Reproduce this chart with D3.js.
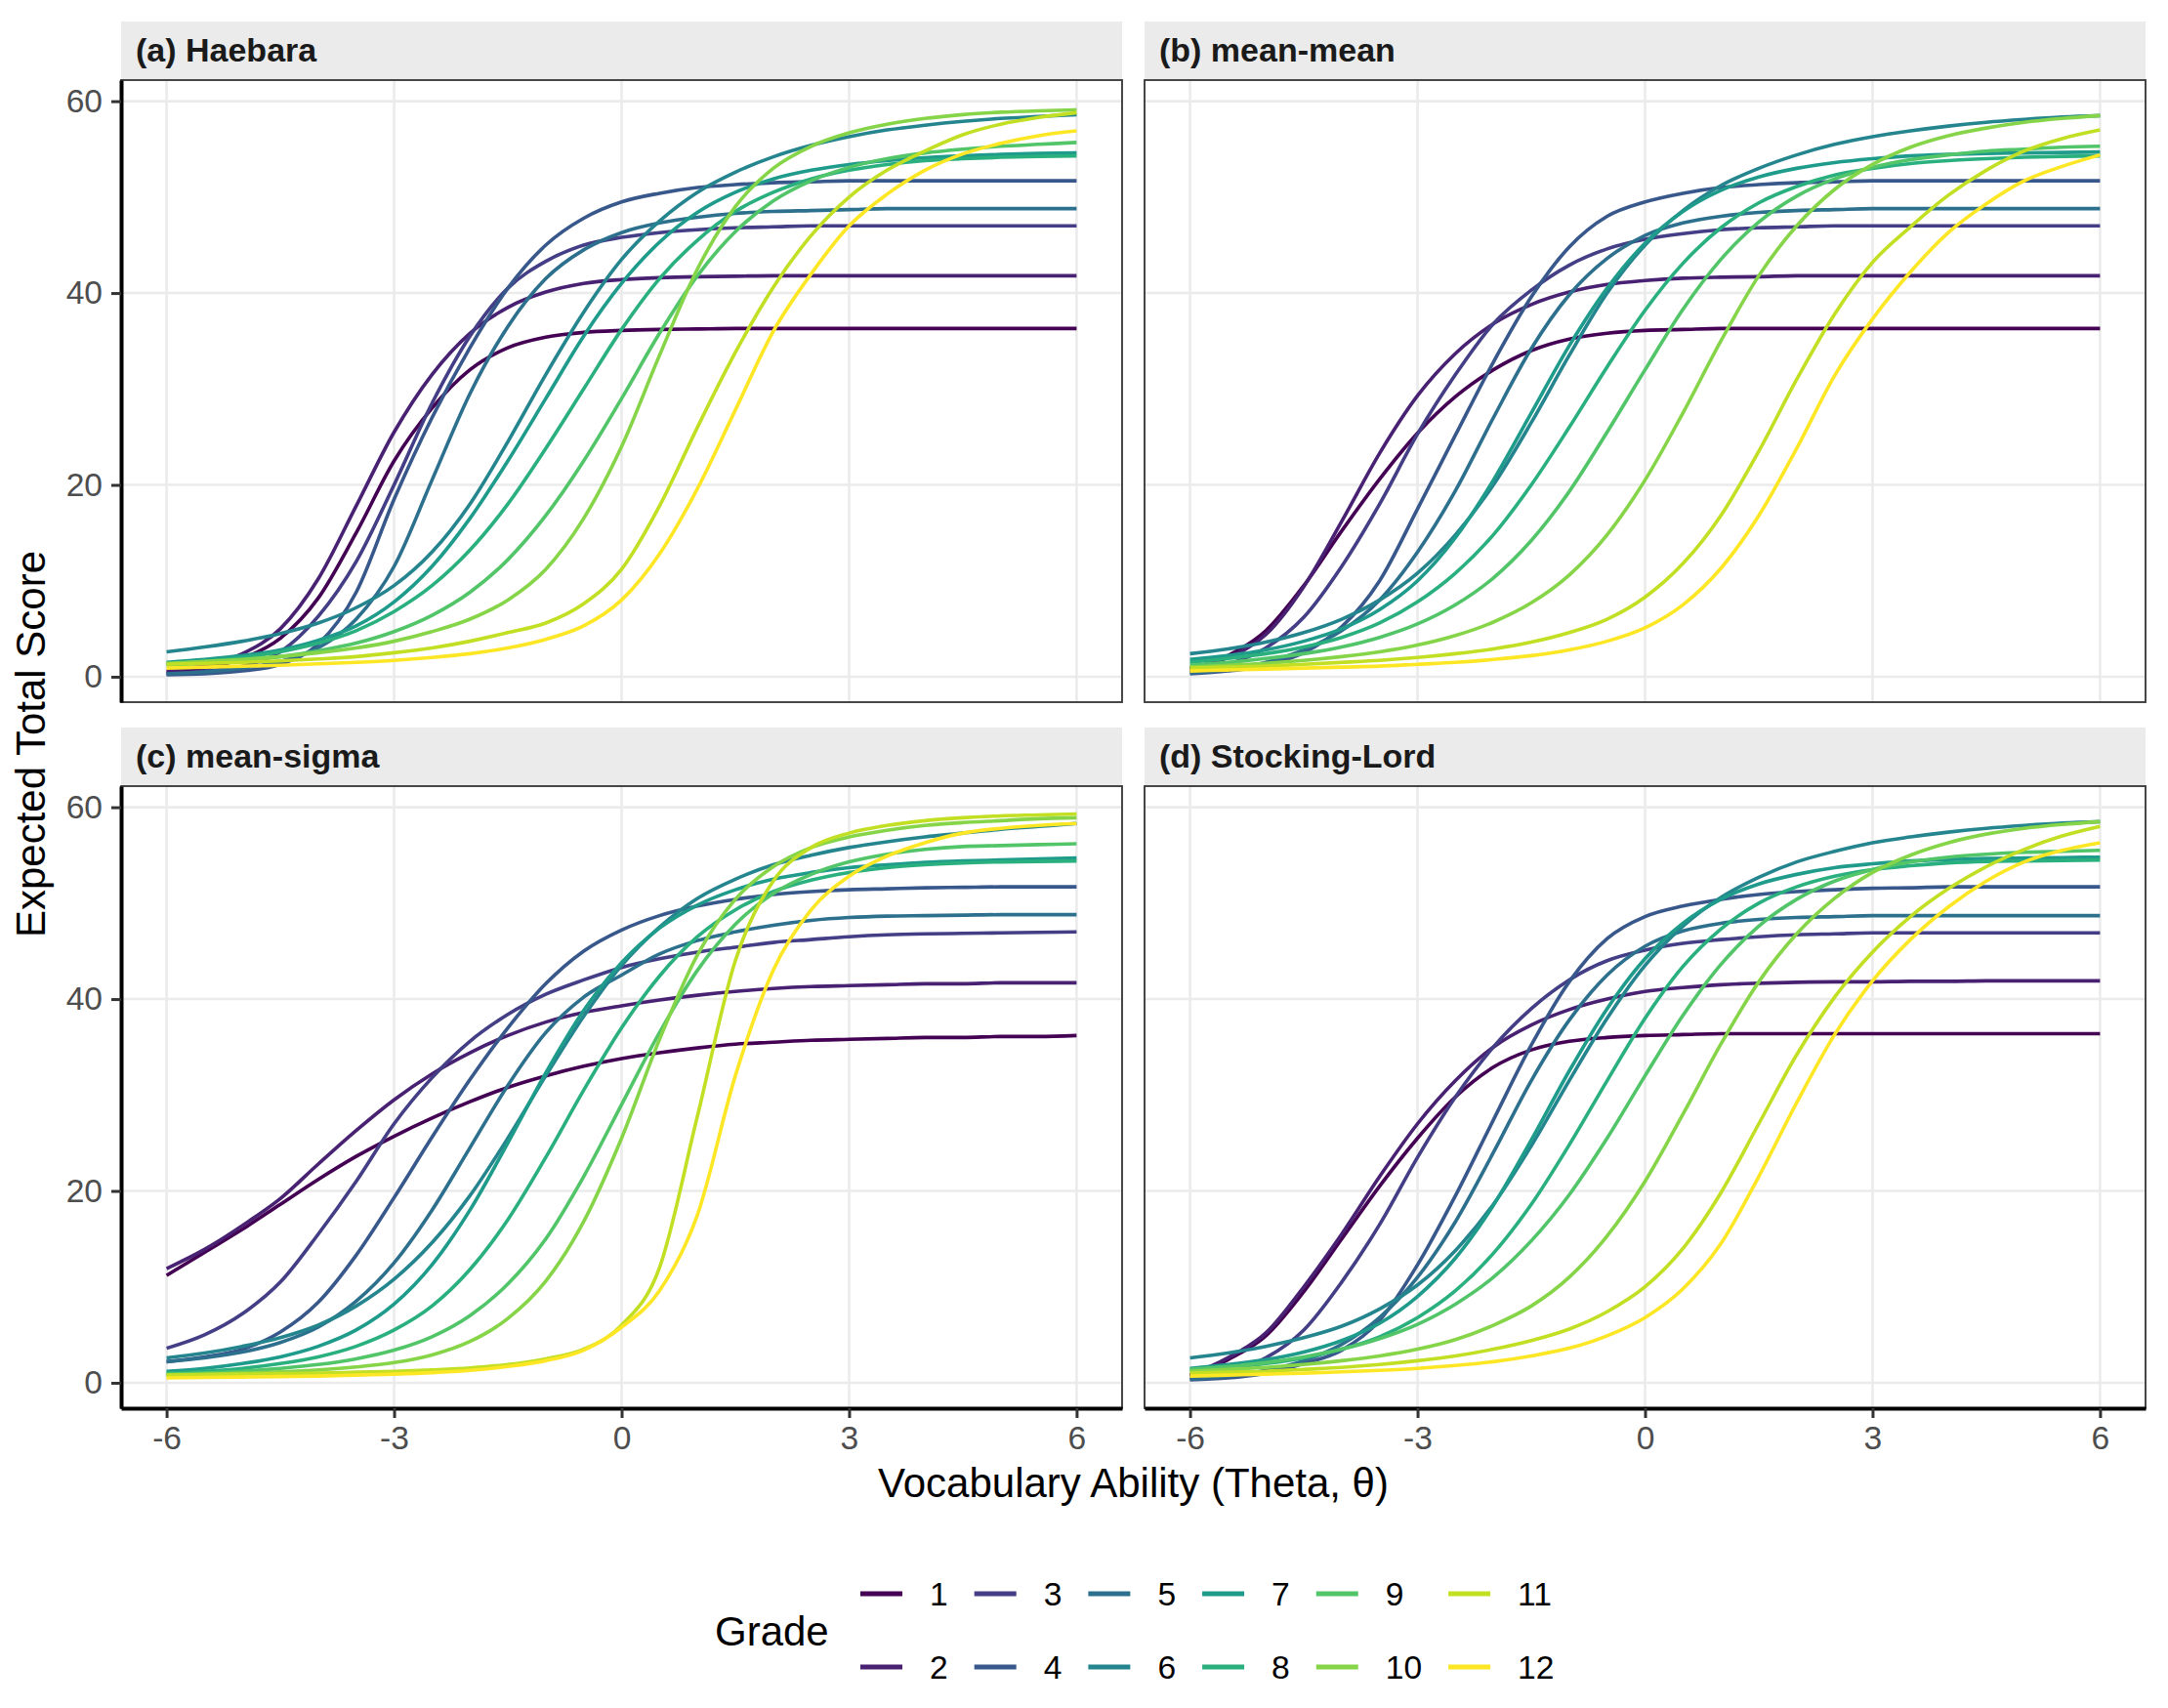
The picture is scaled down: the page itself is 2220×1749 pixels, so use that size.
<!DOCTYPE html>
<html>
<head>
<meta charset="utf-8">
<script src="https://cdn.jsdelivr.net/npm/d3@7"></script>
<style>
  body { margin: 0; background: #fff; }
  svg { display: block; font-family: "Liberation Sans", Arial, Helvetica, sans-serif; }
</style>
</head>
<body>
<div class="mainviz"></div>
<script>
// theta grid the curves were read on (step 0.5)
var theta = [-6,-5.5,-5,-4.5,-4,-3.5,-3,-2.5,-2,-1.5,-1,-0.5,0,0.5,1,1.5,2,2.5,3,3.5,4,4.5,5,5.5,6];
var grades = [1,2,3,4,5,6,7,8,9,10,11,12];
var panelTitles = ["(a) Haebara", "(b) mean-mean", "(c) mean-sigma", "(d) Stocking-Lord"];
var xTicks = [-6,-3,0,3,6];
var yTicks = [0,20,40,60];

// expected total score, one row per grade
var haebara = [
  [0.4,0.9,1.9,4.0,8.2,15.0,22.5,28.0,32.0,34.3,35.4,35.9,36.1,36.2,36.25,36.3,36.3,36.3,36.3,36.3,36.3,36.3,36.3,36.3,36.3],
  [0.6,1.2,2.4,5.0,10.2,17.8,25.5,31.5,35.8,38.5,40.1,41.0,41.4,41.6,41.7,41.75,41.8,41.8,41.8,41.8,41.8,41.8,41.8,41.8,41.8],
  [0.3,0.6,1.1,2.6,6.3,12.0,20.0,28.5,35.5,40.5,43.3,45.0,45.8,46.3,46.6,46.8,46.9,47.0,47.0,47.0,47.0,47.0,47.0,47.0,47.0],
  [0.2,0.3,0.6,1.3,3.4,8.8,18.5,27.0,34.3,40.5,45.0,47.8,49.5,50.4,51.0,51.3,51.5,51.6,51.7,51.7,51.7,51.7,51.7,51.7,51.7],
  [0.3,0.5,0.9,1.6,3.0,6.0,11.5,20.5,29.5,36.5,41.5,44.5,46.3,47.3,47.9,48.3,48.5,48.6,48.7,48.8,48.8,48.8,48.8,48.8,48.8],
  [2.6,3.1,3.7,4.5,5.6,7.2,9.5,13.0,18.0,24.5,31.5,38.0,43.5,47.5,50.5,52.6,54.2,55.4,56.3,57.0,57.5,57.9,58.2,58.4,58.6],
  [1.5,1.8,2.2,2.8,3.8,5.3,7.8,11.5,16.5,22.5,29.0,35.5,41.0,45.3,48.4,50.5,51.9,52.8,53.4,53.8,54.1,54.3,54.45,54.55,54.6],
  [1.3,1.6,2.0,2.6,3.5,4.8,6.8,9.5,13.2,18.0,23.8,30.0,36.2,41.5,45.5,48.5,50.5,51.9,52.8,53.4,53.8,54.0,54.15,54.25,54.3],
  [1.2,1.4,1.7,2.1,2.7,3.5,4.7,6.4,8.8,12.2,16.8,22.5,29.0,35.8,41.8,46.4,49.6,51.7,53.1,54.0,54.6,55.0,55.3,55.5,55.7],
  [1.4,1.6,1.8,2.1,2.5,3.0,3.7,4.7,6.0,8.0,11.2,16.5,24.0,33.5,42.5,49.0,53.0,55.3,56.7,57.6,58.2,58.6,58.85,59.0,59.1],
  [1.3,1.4,1.5,1.65,1.85,2.1,2.5,3.0,3.7,4.6,5.6,7.6,11.2,17.8,26.0,33.8,40.6,46.0,50.0,52.8,54.8,56.5,57.6,58.3,58.8],
  [0.9,1.0,1.1,1.2,1.35,1.5,1.7,2.0,2.4,3.0,3.9,5.3,8.0,12.8,19.6,27.8,36.0,42.0,47.0,50.3,52.8,54.5,55.6,56.4,56.9]
];

var meanMean = [
  [0.8,2.2,4.8,9.5,15.2,20.6,25.4,29.2,32.0,34.0,35.2,35.8,36.1,36.2,36.3,36.3,36.3,36.3,36.3,36.3,36.3,36.3,36.3,36.3,36.3],
  [0.9,2.0,4.4,9.4,16.2,23.3,29.3,33.7,36.8,38.8,40.1,40.9,41.3,41.55,41.65,41.7,41.8,41.8,41.8,41.8,41.8,41.8,41.8,41.8,41.8],
  [0.5,1.3,3.0,6.2,11.5,18.0,25.3,31.5,36.8,40.3,42.9,44.6,45.6,46.2,46.6,46.8,46.9,47.0,47.0,47.0,47.0,47.0,47.0,47.0,47.0],
  [0.3,0.6,1.2,2.5,5.2,10.0,17.5,25.2,32.8,39.6,44.8,48.0,49.5,50.4,51.0,51.3,51.5,51.6,51.7,51.7,51.7,51.7,51.7,51.7,51.7],
  [0.4,0.8,1.5,2.8,4.8,8.0,13.0,19.4,27.0,34.2,39.8,43.6,46.0,47.3,48.0,48.4,48.6,48.7,48.8,48.8,48.8,48.8,48.8,48.8,48.8],
  [2.4,2.9,3.6,4.6,6.0,8.0,10.8,14.8,20.0,26.5,33.5,40.0,45.0,48.6,51.2,53.0,54.4,55.5,56.3,56.9,57.4,57.8,58.1,58.35,58.5],
  [1.8,2.2,2.8,3.7,5.0,7.0,10.0,14.5,20.5,27.5,34.5,40.5,45.2,48.5,50.7,52.1,53.0,53.6,54.0,54.3,54.45,54.55,54.6,54.65,54.7],
  [1.5,1.9,2.4,3.1,4.1,5.6,7.8,10.8,14.8,20.0,26.0,32.3,38.2,43.1,46.8,49.4,51.1,52.3,53.0,53.5,53.8,54.0,54.15,54.25,54.3],
  [1.2,1.5,1.9,2.4,3.1,4.1,5.5,7.5,10.3,14.2,19.3,25.5,32.0,38.3,43.5,47.4,50.1,51.9,53.1,53.9,54.4,54.8,55.0,55.2,55.3],
  [1.0,1.2,1.4,1.7,2.1,2.6,3.3,4.3,5.7,7.7,10.6,14.8,20.5,27.5,35.0,41.8,47.0,50.8,53.4,55.2,56.4,57.2,57.8,58.2,58.5],
  [0.9,1.0,1.1,1.3,1.5,1.7,2.0,2.4,2.9,3.6,4.6,6.0,8.3,11.8,16.8,23.5,31.0,37.8,43.2,46.9,50.2,52.8,54.8,56.1,57.0],
  [0.6,0.7,0.8,0.9,1.0,1.1,1.3,1.5,1.8,2.2,2.8,3.7,5.1,7.5,11.3,16.8,23.8,31.4,37.3,42.2,46.3,49.3,51.7,53.2,54.4]
];

var meanSigma = [
  [11.2,13.6,16.0,18.6,21.2,23.6,25.7,27.6,29.3,30.8,32.0,33.0,33.8,34.4,34.9,35.3,35.5,35.7,35.8,35.9,36.0,36.0,36.1,36.1,36.2],
  [11.9,13.9,16.4,19.2,22.8,26.3,29.5,32.2,34.4,36.2,37.6,38.6,39.3,39.9,40.4,40.8,41.1,41.3,41.4,41.5,41.6,41.6,41.7,41.7,41.7],
  [3.6,5.0,7.2,10.5,15.5,21.0,27.0,31.8,35.6,38.4,40.5,42.0,43.3,44.2,44.9,45.4,45.9,46.2,46.5,46.7,46.8,46.85,46.9,46.95,47.0],
  [2.2,2.7,3.5,5.3,8.4,13.3,19.3,25.6,31.6,37.0,41.6,45.0,47.2,48.7,49.7,50.4,50.9,51.2,51.4,51.5,51.6,51.65,51.7,51.7,51.7],
  [2.2,2.6,3.2,4.2,5.8,8.5,12.5,18.0,24.5,31.0,36.5,40.2,42.5,44.7,46.1,47.0,47.7,48.2,48.5,48.65,48.7,48.75,48.8,48.8,48.8],
  [2.6,3.1,3.8,4.7,6.0,8.0,10.8,14.6,19.5,25.5,32.0,38.2,43.5,47.5,50.5,52.5,54.0,55.0,55.8,56.4,56.9,57.3,57.7,58.0,58.3],
  [1.2,1.5,2.0,2.7,3.8,5.5,8.2,12.3,18.0,25.0,32.3,38.8,43.8,47.4,49.8,51.4,52.5,53.2,53.7,54.0,54.25,54.4,54.5,54.6,54.7],
  [1.0,1.2,1.5,2.0,2.7,3.8,5.5,8.0,11.8,17.0,23.5,30.5,37.0,42.4,46.5,49.3,51.2,52.4,53.2,53.7,54.0,54.2,54.3,54.35,54.4],
  [0.9,1.0,1.2,1.5,1.9,2.5,3.4,4.8,7.0,10.3,15.0,21.5,29.0,36.5,43.0,47.8,51.0,53.0,54.3,55.1,55.6,55.9,56.0,56.1,56.2],
  [0.8,0.9,1.0,1.15,1.35,1.65,2.1,2.9,4.3,6.7,10.6,16.8,25.5,35.8,44.6,50.4,53.8,55.8,56.9,57.6,58.1,58.4,58.6,58.8,58.9],
  [0.8,0.85,0.9,0.95,1.0,1.1,1.2,1.35,1.55,1.9,2.5,3.5,6.0,12.0,27.8,44.0,52.3,55.8,57.3,58.1,58.6,58.9,59.1,59.2,59.3],
  [0.5,0.55,0.6,0.65,0.7,0.8,0.9,1.05,1.3,1.7,2.3,3.4,5.8,9.6,17.5,32.0,43.0,49.3,52.8,54.9,56.3,57.3,57.8,58.1,58.3]
];

var stockingLord = [
  [0.7,2.4,4.9,9.5,15.0,20.5,25.5,29.8,32.9,34.7,35.6,36.0,36.2,36.3,36.4,36.4,36.4,36.4,36.4,36.4,36.4,36.4,36.4,36.4,36.4],
  [0.8,2.6,5.2,10.0,15.5,21.5,27.0,31.5,35.0,37.3,38.9,40.0,40.8,41.2,41.5,41.65,41.75,41.8,41.8,41.85,41.85,41.9,41.9,41.9,41.9],
  [0.4,1.1,2.6,5.5,10.5,16.5,23.5,29.8,35.0,39.0,42.0,44.0,45.1,45.8,46.2,46.5,46.7,46.8,46.9,46.9,46.9,46.9,46.9,46.9,46.9],
  [0.3,0.5,1.0,2.0,3.4,6.5,12.3,19.5,27.4,35.2,41.8,46.3,48.6,49.7,50.4,50.9,51.2,51.4,51.55,51.6,51.7,51.7,51.7,51.7,51.7],
  [0.4,0.7,1.3,2.3,4.0,6.8,11.0,16.8,24.0,31.5,37.8,42.5,45.5,47.1,47.9,48.3,48.5,48.6,48.7,48.7,48.7,48.7,48.7,48.7,48.7],
  [2.6,3.1,3.8,4.7,5.9,7.7,10.2,13.8,18.6,24.7,31.5,38.0,43.5,47.6,50.6,52.7,54.3,55.4,56.3,56.9,57.4,57.8,58.1,58.35,58.5],
  [1.5,1.9,2.4,3.2,4.4,6.2,9.0,13.0,18.5,25.3,32.5,39.0,44.2,47.9,50.4,52.0,53.0,53.7,54.1,54.4,54.55,54.65,54.7,54.75,54.8],
  [1.3,1.6,2.0,2.6,3.5,4.8,6.8,9.6,13.5,18.6,24.8,31.5,38.0,43.4,47.3,50.0,51.7,52.8,53.5,53.9,54.2,54.35,54.4,54.45,54.5],
  [1.4,1.7,2.1,2.7,3.5,4.6,6.1,8.2,11.0,14.8,19.6,25.5,32.0,38.3,43.6,47.6,50.4,52.3,53.5,54.3,54.8,55.1,55.3,55.4,55.5],
  [1.2,1.4,1.6,1.9,2.3,2.8,3.5,4.5,6.0,8.0,11.0,15.3,21.0,28.0,35.3,41.8,46.8,50.5,53.2,55.0,56.3,57.2,57.8,58.2,58.5],
  [1.0,1.1,1.2,1.4,1.6,1.9,2.3,2.8,3.5,4.4,5.6,7.4,10.0,14.0,19.8,27.0,34.2,40.2,44.9,48.6,51.5,53.8,55.6,57.0,58.0],
  [0.7,0.8,0.9,1.0,1.15,1.3,1.5,1.8,2.2,2.8,3.6,4.9,6.8,9.8,14.5,21.5,29.2,36.3,41.9,46.2,49.6,52.3,54.3,55.5,56.3]
];

var width = 2220, height = 1749;
var colX = [124, 1172], rowY = [82, 805];
var panelW = 1025, panelH = 637, stripH = 59;

var panels = [
  { title: panelTitles[0], scores: haebara, col: 0, row: 0 },
  { title: panelTitles[1], scores: meanMean, col: 1, row: 0 },
  { title: panelTitles[2], scores: meanSigma, col: 0, row: 1 },
  { title: panelTitles[3], scores: stockingLord, col: 1, row: 1 }
];

var svg = d3.select(".mainviz").append("svg")
  .attr("width", width)
  .attr("height", height);

svg.append("rect").attr("width", width).attr("height", height).attr("fill", "#fff");

var x = d3.scaleLinear().domain([-6.6, 6.6]).range([0, panelW]);
var y = d3.scaleLinear().domain([-2.65, 62.2]).range([panelH, 0]);

var color = d3.scaleOrdinal()
  .domain(grades)
  .range(grades.map(function(g, i){ return d3.interpolateViridis(i / (grades.length - 1)); }));

var line = d3.line()
  .x(function(d){ return x(d[0]); })
  .y(function(d){ return y(d[1]); })
  .curve(d3.curveMonotoneX);

panels.forEach(function(p){
  var g = svg.append("g")
    .attr("transform", "translate(" + colX[p.col] + "," + rowY[p.row] + ")");

  // strip
  g.append("rect")
    .attr("x", 0).attr("y", -stripH - 1)
    .attr("width", panelW).attr("height", stripH)
    .attr("fill", "#ebebeb");
  g.append("text")
    .attr("x", 15).attr("y", -stripH / 2 - 1)
    .attr("dy", "0.35em")
    .attr("font-size", 34)
    .attr("font-weight", "bold")
    .attr("fill", "#1a1a1a")
    .text(p.title);

  // grid
  g.selectAll("line.vgrid")
    .data(xTicks)
    .enter().append("line")
    .attr("class", "vgrid")
    .attr("x1", function(d){ return x(d); }).attr("x2", function(d){ return x(d); })
    .attr("y1", 0).attr("y2", panelH)
    .attr("stroke", "#ebebeb").attr("stroke-width", 2.6);
  g.selectAll("line.hgrid")
    .data(yTicks)
    .enter().append("line")
    .attr("class", "hgrid")
    .attr("x1", 0).attr("x2", panelW)
    .attr("y1", function(d){ return y(d); }).attr("y2", function(d){ return y(d); })
    .attr("stroke", "#ebebeb").attr("stroke-width", 2.6);

  // curves
  g.selectAll("path.curve")
    .data(p.scores)
    .enter().append("path")
    .attr("class", "curve")
    .attr("d", function(row){ return line(theta.map(function(t, i){ return [t, row[i]]; })); })
    .attr("fill", "none")
    .attr("stroke", function(row, i){ return color(grades[i]); })
    .attr("stroke-width", 3.6);

  // panel border
  g.append("rect")
    .attr("width", panelW).attr("height", panelH)
    .attr("fill", "none")
    .attr("stroke", "#333333").attr("stroke-width", 1.8);

  // y axis on left column
  if (p.col === 0) {
    var ya = g.append("g")
      .call(d3.axisLeft(y).tickValues(yTicks).tickFormat(String)
        .tickSize(10).tickSizeOuter(0).tickPadding(9));
    ya.select(".domain").attr("stroke", "#000").attr("stroke-width", 4);
    ya.selectAll(".tick line").attr("stroke", "#333333").attr("stroke-width", 3);
    ya.selectAll(".tick text")
      .attr("font-size", 33.6).attr("fill", "#4d4d4d")
      .attr("font-family", "Liberation Sans, Arial, sans-serif");
  }
  // x axis on bottom row
  if (p.row === 1) {
    var xa = g.append("g")
      .attr("transform", "translate(0," + panelH + ")")
      .call(d3.axisBottom(x).tickValues(xTicks).tickFormat(String)
        .tickSize(10).tickSizeOuter(0).tickPadding(8));
    xa.select(".domain").attr("stroke", "#000").attr("stroke-width", 4);
    xa.selectAll(".tick line").attr("stroke", "#333333").attr("stroke-width", 3);
    xa.selectAll(".tick text")
      .attr("font-size", 33.6).attr("fill", "#4d4d4d")
      .attr("font-family", "Liberation Sans, Arial, sans-serif");
  }
});

// axis titles
svg.append("text")
  .attr("x", (colX[0] + colX[1] + panelW) / 2)
  .attr("y", 1533)
  .attr("text-anchor", "middle")
  .attr("font-size", 42)
  .attr("fill", "#000")
  .text("Vocabulary Ability (Theta, θ)");

svg.append("text")
  .attr("transform", "translate(31," + (rowY[0] + rowY[1] + panelH) / 2 + ") rotate(-90)")
  .attr("text-anchor", "middle")
  .attr("dy", "0.35em")
  .attr("font-size", 42)
  .attr("fill", "#000")
  .text("Expected Total Score");

// legend
var legend = svg.append("g").attr("class", "legend");
legend.append("text")
  .attr("x", 732).attr("y", 1670)
  .attr("dy", "0.35em")
  .attr("font-size", 42)
  .attr("fill", "#000")
  .text("Grade");

var legendRows = [1632, 1707];
var keyW = 43, keyGap = 28, colGap = 27;
var cx = 881;
for (var c = 0; c < grades.length / 2; c++) {
  var maxW = 0;
  for (var r = 0; r < 2; r++) {
    var gr = grades[c * 2 + r];
    legend.append("line")
      .attr("x1", cx).attr("x2", cx + keyW)
      .attr("y1", legendRows[r]).attr("y2", legendRows[r])
      .attr("stroke", color(gr)).attr("stroke-width", 5);
    var t = legend.append("text")
      .attr("x", cx + keyW + keyGap).attr("y", legendRows[r])
      .attr("dy", "0.36em")
      .attr("font-size", 33.6)
      .attr("fill", "#000")
      .text(gr);
    maxW = Math.max(maxW, t.node().getComputedTextLength());
  }
  cx = cx + keyW + keyGap + maxW + colGap;
}
</script>
</body>
</html>
